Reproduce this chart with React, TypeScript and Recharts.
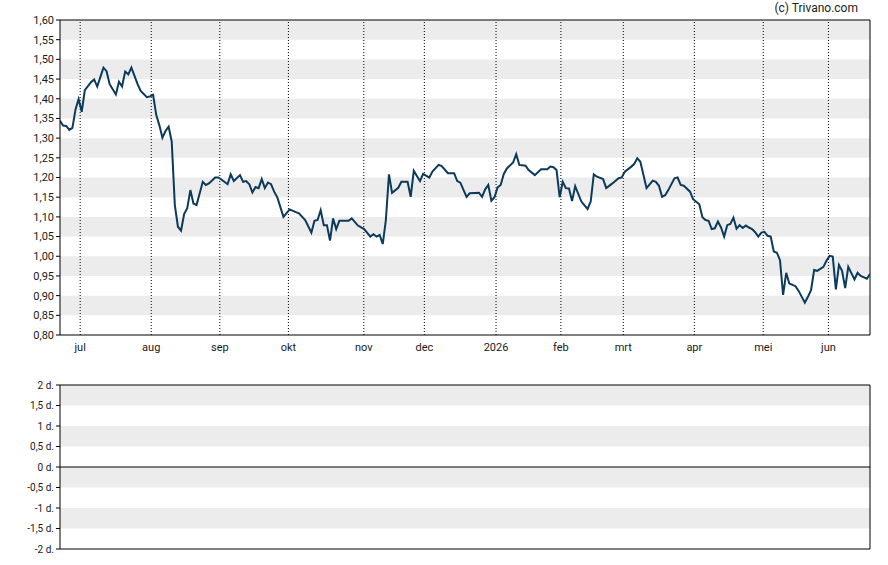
import React from "react";
import { LineChart, Line, XAxis, YAxis, ReferenceArea, ReferenceLine } from "recharts";

// trading-day index (0 = first session shown) and closing price
const tradingDay = [
  0, 1, 2, 3, 4, 5, 6, 7, 8, 10, 11, 12, 13, 14, 15, 16, 18, 19, 20, 21, 22, 23, 25, 26, 28, 29, 30, 31, 32, 33, 34, 35, 36,
  37, 38, 39, 40, 41, 42, 43, 44, 46, 47, 48, 50, 51, 52, 54, 55, 56, 58, 59, 60, 61, 62, 63, 64, 65, 66, 67, 68, 69, 70,
  72, 74, 76, 77, 79, 81, 82, 83, 84, 85, 86, 87, 88, 89, 90, 93, 94, 96, 98, 100, 101, 102, 103, 104, 105, 106, 107, 109,
  110, 112, 113, 114, 115, 116, 117, 119, 120, 122, 123, 125, 127, 128, 129, 131, 132, 135, 136, 137, 138, 139, 140, 141,
  142, 143, 144, 146, 147, 148, 150, 151, 153, 155, 157, 158, 159, 160, 161, 162, 163, 164, 165, 166, 168, 170, 171, 172,
  173, 175, 176, 178, 180, 181, 182, 184, 185, 186, 187, 189, 191, 192, 193, 194, 195, 196, 198, 199, 200, 201, 203, 204,
  206, 207, 208, 209, 210, 211, 212, 213, 214, 215, 216, 217, 218, 219, 220, 221, 222, 223, 224, 225, 226, 227, 228, 229,
  230, 231, 232, 233, 234, 235, 237, 238, 240, 241, 242, 243, 244, 246, 247, 248, 249, 250, 251, 252, 253, 254, 255, 256,
  257, 258, 260, 261,
];
const closePrice = [
  1.344, 1.332, 1.331, 1.321, 1.326, 1.373, 1.399, 1.367, 1.422, 1.442, 1.449, 1.431, 1.455, 1.479, 1.47, 1.437, 1.411,
  1.443, 1.431, 1.469, 1.462, 1.479, 1.437, 1.42, 1.404, 1.406, 1.41, 1.359, 1.333, 1.301, 1.318, 1.329, 1.291,
  1.13, 1.075, 1.065, 1.107, 1.122, 1.168, 1.134, 1.13, 1.189, 1.181, 1.185, 1.2, 1.2, 1.195, 1.183, 1.208, 1.191, 1.206,
  1.189, 1.191, 1.183, 1.162, 1.176, 1.173, 1.196, 1.173, 1.187, 1.183, 1.164, 1.15,
  1.1, 1.119, 1.112, 1.109, 1.092, 1.06, 1.09, 1.092, 1.117, 1.079, 1.079, 1.04, 1.096, 1.069, 1.09, 1.09, 1.096, 1.078,
  1.069, 1.05, 1.056, 1.05, 1.054, 1.031, 1.092, 1.208, 1.161, 1.174,
  1.189, 1.189, 1.151, 1.217, 1.204, 1.191, 1.209, 1.2, 1.215, 1.232, 1.229, 1.211, 1.211, 1.191, 1.187, 1.151, 1.16,
  1.161, 1.151, 1.17, 1.181, 1.141, 1.15, 1.175,
  1.181, 1.209, 1.223, 1.238, 1.259, 1.232, 1.23, 1.219, 1.206, 1.221, 1.221, 1.228, 1.226, 1.219, 1.15, 1.189, 1.173,
  1.172, 1.14, 1.178, 1.139, 1.12, 1.139, 1.208,
  1.202, 1.196, 1.173, 1.185, 1.198, 1.2, 1.215, 1.227, 1.234, 1.249, 1.24, 1.173, 1.192, 1.189, 1.179, 1.151, 1.155,
  1.168, 1.198, 1.2, 1.181, 1.179, 1.164, 1.145,
  1.132, 1.099, 1.092, 1.09, 1.069, 1.071, 1.088, 1.073, 1.05, 1.079, 1.082, 1.098, 1.07, 1.079, 1.072, 1.078, 1.073,
  1.069, 1.061, 1.05, 1.06, 1.062, 1.052, 1.05,
  1.012, 1.009, 0.99, 0.902, 0.958, 0.931, 0.924, 0.912, 0.882, 0.897, 0.914, 0.965, 0.963, 0.973, 0.989, 1.001, 0.999,
  0.916, 0.978, 0.963, 0.919, 0.973, 0.957, 0.941,
  0.958, 0.95, 0.943, 0.955,
];

// month boundaries (trading-day index) and their labels
const monthLabels = ["jul", "aug", "sep", "okt", "nov", "dec", "2026", "feb", "mrt", "apr", "mei", "jun"];
const monthStarts = [6.5, 29.4, 51.5, 73.6, 97.9, 117.4, 140.5, 161.4, 181.5, 204.4, 226.6, 247.6];

const priceTicks = [0.8, 0.85, 0.9, 0.95, 1.0, 1.05, 1.1, 1.15, 1.2, 1.25, 1.3, 1.35, 1.4, 1.45, 1.5, 1.55, 1.6];
const priceBands = [
  [0.85, 0.9], [0.95, 1.0], [1.05, 1.1], [1.15, 1.2], [1.25, 1.3], [1.35, 1.4], [1.45, 1.5], [1.55, 1.6],
];
const dayTicks = [-2, -1.5, -1, -0.5, 0, 0.5, 1, 1.5, 2];
const dayBands = [
  [-1.5, -1], [-0.5, 0], [0.5, 1], [1.5, 2],
];

const FIRST_DAY = 0;
const LAST_DAY = 261;

const data = tradingDay.map((d, i) => ({ day: d, close: closePrice[i] }));
// lower panel has no series of its own: a flat zero baseline across the shared day axis
const lowerDays = [FIRST_DAY, LAST_DAY];
const lowerValues = [0, 0];
const lowerData = lowerDays.map((d, i) => ({ day: d, delta: lowerValues[i] }));
const monthName: Record<string, string> = {};
monthStarts.forEach((m, i) => (monthName[String(m)] = monthLabels[i]));

const FONT = "Roboto, 'Liberation Sans', Arial, sans-serif";
const BAND = "#ececec";
const LINE = "#0c3a5a";
const tickStyle = { fontSize: 11, fill: "#1a1a1a", fontFamily: FONT };

const fmtPrice = (v: number) => v.toFixed(2).replace(".", ",");
const fmtDays = (v: number) => `${String(v).replace(".", ",")} d.`;

export default function App() {
  return (
    <div style={{ position: "absolute", left: 0, top: 0, width: 888, height: 565, background: "#fff", fontFamily: FONT }}>
      <div
        style={{
          position: "absolute",
          right: 30,
          top: 1,
          fontSize: 12,
          color: "#222",
          fontFamily: FONT,
        }}
      >
        (c) Trivano.com
      </div>
      <div style={{ position: "absolute", left: 0, top: 0 }}>
        <LineChart width={888} height={360} data={data} margin={{ top: 20, right: 18, left: 0, bottom: 0 }}>
          {priceBands.map(([a, b], i) => (
            <ReferenceArea key={"pb" + i} y1={a} y2={b} fill={BAND} fillOpacity={1} stroke="none" />
          ))}
          {monthStarts.map((m) => (
            <ReferenceLine key={"m" + m} x={m} stroke="#000" strokeDasharray="1 2" strokeWidth={1} />
          ))}
          <ReferenceLine y={1.6} stroke="#000" strokeWidth={1} />
          <ReferenceLine x={LAST_DAY} stroke="#000" strokeWidth={1} />
          <XAxis
            dataKey="day"
            type="number"
            domain={[FIRST_DAY, LAST_DAY]}
            ticks={monthStarts}
            tickFormatter={(v: number) => monthName[String(v)] ?? ""}
            interval={0}
            height={25}
            tickLine={false}
            tick={tickStyle}
            axisLine={{ stroke: "#000" }}
            allowDataOverflow
          />
          <YAxis
            type="number"
            domain={[0.8, 1.6]}
            ticks={priceTicks}
            interval={0}
            width={60}
            tickSize={4}
            tickLine={{ stroke: "#000" }}
            axisLine={{ stroke: "#000" }}
            tick={tickStyle}
            tickFormatter={fmtPrice}
          />
          <Line
            type="linear"
            dataKey="close"
            stroke={LINE}
            strokeWidth={2}
            dot={false}
            isAnimationActive={false}
          />
        </LineChart>
      </div>
      <div style={{ position: "absolute", left: 0, top: 360 }}>
        <LineChart width={888} height={200} data={lowerData} margin={{ top: 25, right: 18, left: 0, bottom: 11 }}>
          {dayBands.map(([a, b], i) => (
            <ReferenceArea key={"db" + i} y1={a} y2={b} fill={BAND} fillOpacity={1} stroke="none" />
          ))}
          <ReferenceLine y={2} stroke="#000" strokeWidth={1} />
          <ReferenceLine y={-2} stroke="#000" strokeWidth={1} />
          <ReferenceLine x={LAST_DAY} stroke="#000" strokeWidth={1} />
          <XAxis dataKey="day" type="number" domain={[FIRST_DAY, LAST_DAY]} hide />
          <YAxis
            type="number"
            domain={[-2, 2]}
            ticks={dayTicks}
            interval={0}
            width={60}
            tickSize={4}
            tickLine={{ stroke: "#000" }}
            axisLine={{ stroke: "#000" }}
            tick={{ ...tickStyle, fontSize: 10 }}
            tickFormatter={fmtDays}
          />
          <Line
            type="linear"
            dataKey="delta"
            stroke="#000"
            strokeWidth={1}
            dot={false}
            isAnimationActive={false}
          />
        </LineChart>
      </div>
    </div>
  );
}
